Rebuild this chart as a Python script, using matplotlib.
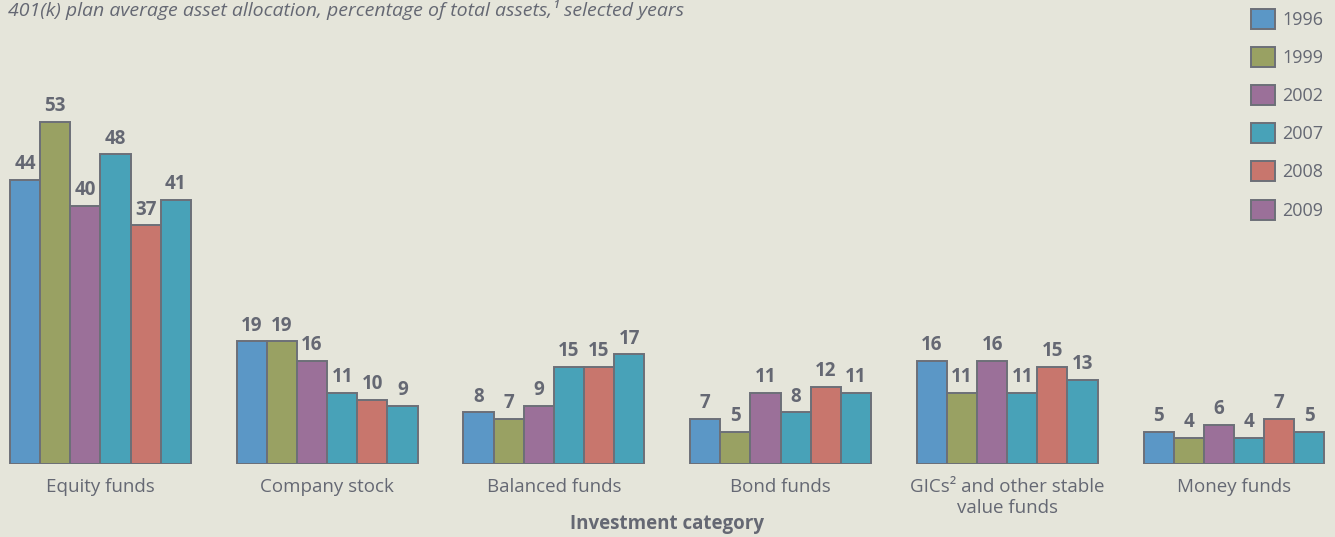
import numpy as np
import matplotlib
matplotlib.use("Agg")
import matplotlib.pyplot as plt
from matplotlib.patches import Patch

plt.rcParams['font.family'] = ['Open Sans', 'DejaVu Sans']

# data
categories = ["Equity funds", "Company stock", "Balanced funds", "Bond funds",
              "GICs\u00b2 and other stable\nvalue funds", "Money funds"]
years = ["1996", "1999", "2002", "2007", "2008", "2009"]
v1996 = [44, 19, 8, 7, 16, 5]
v1999 = [53, 19, 7, 5, 11, 4]
v2002 = [40, 16, 9, 11, 16, 6]
v2007 = [48, 11, 15, 8, 11, 4]
v2008 = [37, 10, 15, 12, 15, 7]
v2009 = [41, 9, 17, 11, 13, 5]
series = [v1996, v1999, v2002, v2007, v2008, v2009]

# bar colours as drawn, legend colours as shown in the key
bar_colors = ["#5b97c6", "#99a163", "#9b7099", "#48a2b8", "#c8766d", "#48a2b8"]
key_colors = ["#5b97c6", "#99a163", "#9b7099", "#48a2b8", "#c8766d", "#9b7099"]
bg = "#e5e5da"
txt = "#656873"
edge = "#6c6f78"

fig = plt.figure(figsize=(13.35, 5.37), dpi=100, facecolor=bg)
ax = fig.add_axes([0, 73 / 537, 1, 387 / 537])
ax.set_facecolor(bg)

x = np.arange(len(categories))
w = 0.1329
for i, vals in enumerate(series):
    pos = x + (i - 2.5) * w
    bars = ax.bar(pos, vals, width=w, color=bar_colors[i], edgecolor=edge, linewidth=1.4)
    for b, v in zip(bars, vals):
        ax.text(b.get_x() + b.get_width() / 2, v + 0.9, str(v), ha='center', va='bottom',
                fontsize=13.5, fontweight='bold', color=txt)

ax.set_xlim(-0.443, 5.446)
ax.set_ylim(0, 60)
for s in ax.spines.values():
    s.set_visible(False)
ax.set_yticks([])
ax.set_xticks(x)
ax.set_xticklabels(categories, fontsize=13.5, color=txt, linespacing=1.25)
ax.tick_params(axis='x', length=0, pad=10)

fig.text(0.5, 1 - 524 / 537, "Investment category", fontsize=13.5, fontweight='bold',
         color=txt, ha='center', va='center')

fig.text(0.006, 1.0, "401(k) plan average asset allocation, percentage of total assets,\u00b9 selected years",
         fontsize=14, style='italic', color=txt, va='top', ha='left')

handles = [Patch(facecolor=c, edgecolor=edge, linewidth=1.4) for c in key_colors]
fig.legend(handles, years, loc='upper left', bbox_to_anchor=(1251 / 1335, 1 - 9 / 537),
           frameon=False, fontsize=13, handlelength=1.33, handleheight=1.33,
           labelspacing=1.0, handletextpad=0.4, borderpad=0, borderaxespad=0,
           labelcolor=txt)

fig.savefig("out.png", dpi=100, facecolor=bg)
